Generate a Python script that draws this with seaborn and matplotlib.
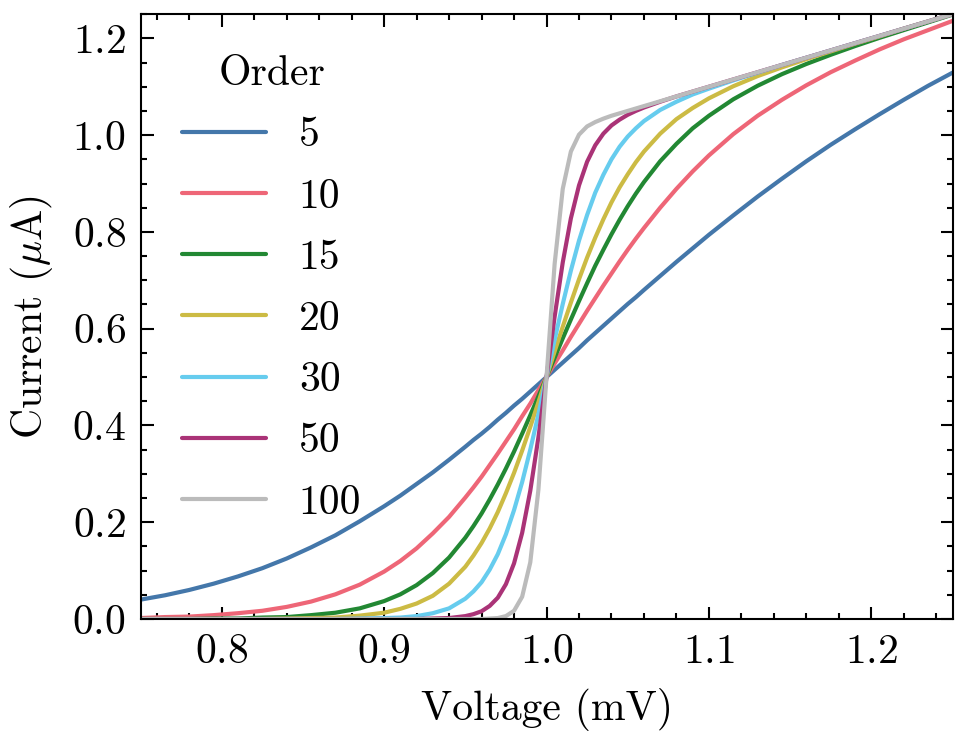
import pandas as pd
import matplotlib
matplotlib.use("Agg")
import matplotlib.pyplot as plt
import seaborn as sns
from matplotlib.ticker import AutoMinorLocator

# voltage samples (mV)
voltage = [0.75, 0.765, 0.78, 0.795, 0.81, 0.825, 0.84, 0.855, 0.87, 0.885, 0.90,
           0.91, 0.92, 0.93, 0.94, 0.95, 0.955, 0.96, 0.965, 0.97, 0.975, 0.98, 0.985, 0.99, 0.995, 1.00,
           1.005, 1.01, 1.015, 1.02, 1.025, 1.03, 1.035, 1.04, 1.045, 1.05, 1.055, 1.06, 1.07, 1.08, 1.09, 1.10,
           1.115, 1.13, 1.145, 1.16, 1.175, 1.19, 1.205, 1.22, 1.235, 1.25]

# current (uA)
cur_5 = [0.040, 0.049, 0.060, 0.073, 0.088, 0.105, 0.125, 0.148, 0.173, 0.202, 0.233,
         0.255, 0.279, 0.303, 0.329, 0.356, 0.370, 0.383, 0.397, 0.412, 0.426, 0.441, 0.455, 0.470, 0.485, 0.500,
         0.515, 0.530, 0.545, 0.560, 0.576, 0.591, 0.606, 0.621, 0.636, 0.651, 0.665, 0.680, 0.709, 0.738, 0.766, 0.794,
         0.834, 0.873, 0.910, 0.946, 0.980, 1.012, 1.043, 1.073, 1.102, 1.129]
cur_10 = [0.002, 0.004, 0.005, 0.008, 0.012, 0.017, 0.025, 0.036, 0.051, 0.071, 0.098,
          0.120, 0.146, 0.177, 0.211, 0.251, 0.272, 0.294, 0.318, 0.342, 0.367, 0.392, 0.419, 0.445, 0.473, 0.500,
          0.528, 0.555, 0.583, 0.610, 0.637, 0.663, 0.689, 0.714, 0.739, 0.763, 0.786, 0.808, 0.850, 0.889, 0.925, 0.958,
          1.002, 1.040, 1.073, 1.103, 1.130, 1.154, 1.177, 1.198, 1.217, 1.236]
cur_15 = [0.000, 0.000, 0.000, 0.001, 0.001, 0.003, 0.004, 0.008, 0.013, 0.022, 0.037,
          0.051, 0.070, 0.095, 0.127, 0.168, 0.192, 0.218, 0.247, 0.278, 0.311, 0.346, 0.383, 0.421, 0.460, 0.500,
          0.540, 0.580, 0.619, 0.657, 0.694, 0.730, 0.763, 0.795, 0.825, 0.853, 0.879, 0.903, 0.946, 0.982, 1.014, 1.040,
          1.074, 1.102, 1.126, 1.147, 1.166, 1.184, 1.201, 1.217, 1.233, 1.249]
cur_20 = [0.000, 0.000, 0.000, 0.000, 0.000, 0.000, 0.001, 0.002, 0.003, 0.007, 0.013,
          0.021, 0.032, 0.048, 0.073, 0.108, 0.131, 0.157, 0.187, 0.221, 0.260, 0.302, 0.348, 0.397, 0.448, 0.500,
          0.553, 0.604, 0.654, 0.702, 0.747, 0.788, 0.826, 0.861, 0.892, 0.919, 0.944, 0.966, 1.003, 1.033, 1.056, 1.076,
          1.101, 1.122, 1.140, 1.157, 1.173, 1.189, 1.204, 1.220, 1.235, 1.250]
cur_30 = [0.000, 0.000, 0.000, 0.000, 0.000, 0.000, 0.000, 0.000, 0.000, 0.001, 0.002,
          0.003, 0.006, 0.012, 0.022, 0.042, 0.057, 0.076, 0.102, 0.134, 0.175, 0.225, 0.283, 0.350, 0.423, 0.500,
          0.577, 0.651, 0.720, 0.782, 0.835, 0.881, 0.918, 0.950, 0.976, 0.997, 1.014, 1.029, 1.052, 1.069, 1.084, 1.096,
          1.113, 1.129, 1.145, 1.160, 1.175, 1.190, 1.205, 1.220, 1.235, 1.250]
cur_50 = [0.000, 0.000, 0.000, 0.000, 0.000, 0.000, 0.000, 0.000, 0.000, 0.000, 0.000,
          0.000, 0.000, 0.001, 0.002, 0.006, 0.010, 0.016, 0.027, 0.044, 0.072, 0.115, 0.178, 0.265, 0.375, 0.500,
          0.625, 0.737, 0.828, 0.896, 0.945, 0.979, 1.003, 1.020, 1.032, 1.042, 1.050, 1.057, 1.069, 1.080, 1.090, 1.100,
          1.115, 1.130, 1.145, 1.160, 1.175, 1.190, 1.205, 1.220, 1.235, 1.250]
cur_100 = [0.000, 0.000, 0.000, 0.000, 0.000, 0.000, 0.000, 0.000, 0.000, 0.000, 0.000,
           0.000, 0.000, 0.000, 0.000, 0.000, 0.000, 0.000, 0.001, 0.002, 0.006, 0.017, 0.046, 0.117, 0.267, 0.500,
           0.734, 0.889, 0.966, 1.001, 1.018, 1.027, 1.034, 1.040, 1.045, 1.050, 1.055, 1.060, 1.070, 1.080, 1.090, 1.100,
           1.115, 1.130, 1.145, 1.160, 1.175, 1.190, 1.205, 1.220, 1.235, 1.250]

orders = ["5", "10", "15", "20", "30", "50", "100"]
currents = [cur_5, cur_10, cur_15, cur_20, cur_30, cur_50, cur_100]
colors = ["#4477AA", "#EE6677", "#228833", "#CCBB44", "#66CCEE", "#AA3377", "#BBBBBB"]

rows = []
for o, ys in zip(orders, currents):
    assert len(ys) == len(voltage), o
    for v, c in zip(voltage, ys):
        rows.append({"Voltage": v, "Current": c, "Order": o})
df = pd.DataFrame(rows)

sns.set_style("ticks")
plt.rcParams.update({
    "font.family": ["cmr10"],
    "mathtext.fontset": "cm",
    "axes.formatter.use_mathtext": True,
    "font.size": 10,
    "text.color": "black",
    "axes.labelcolor": "black",
    "xtick.labelcolor": "black",
    "ytick.labelcolor": "black",
    "axes.linewidth": 0.5,
    "xtick.direction": "in",
    "ytick.direction": "in",
    "xtick.top": True,
    "ytick.right": True,
    "xtick.major.size": 3,
    "ytick.major.size": 3,
    "xtick.minor.size": 1.5,
    "ytick.minor.size": 1.5,
    "xtick.major.width": 0.5,
    "ytick.major.width": 0.5,
    "xtick.minor.width": 0.5,
    "ytick.minor.width": 0.5,
    "xtick.minor.visible": True,
    "ytick.minor.visible": True,
    "xtick.color": "black",
    "ytick.color": "black",
    "axes.edgecolor": "black",
})

fig, ax = plt.subplots(figsize=(3.23, 2.48), dpi=300)
fig.subplots_adjust(left=0.145, right=0.983, top=0.981, bottom=0.168)

sns.lineplot(data=df, x="Voltage", y="Current", hue="Order", hue_order=orders,
             palette=colors, linewidth=1.0, ax=ax)

ax.set_xlim(0.75, 1.25)
ax.set_ylim(0, 1.25)
ax.xaxis.set_minor_locator(AutoMinorLocator())
ax.yaxis.set_minor_locator(AutoMinorLocator())
ax.tick_params(which="both", top=True, right=True, direction="in")
ax.set_xlabel("Voltage (mV)")
ax.set_ylabel(r"Current ($\mu$A)")
ax.legend(title="Order", frameon=False, loc="upper left", labelspacing=0.57,
          borderaxespad=0.6)

fig.savefig("out.png", dpi=300)
